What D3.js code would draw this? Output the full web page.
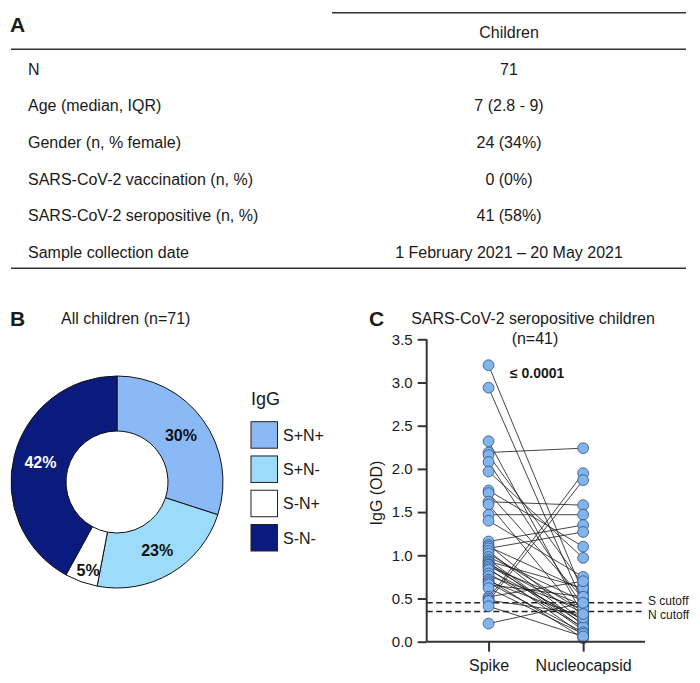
<!DOCTYPE html>
<html>
<head>
<meta charset="utf-8">
<script src="https://cdn.jsdelivr.net/npm/d3@7"></script>
<style>
  body { margin: 0; background: #fff; }
  svg { display: block; font-family: "Liberation Sans", Arial, sans-serif; }
</style>
</head>
<body>
<svg id="fig" width="700" height="683"></svg>
<script>
// ---------- Data ----------
const tableHeader = "Children";
const tableLabels = ["N", "Age (median, IQR)", "Gender (n, % female)", "SARS-CoV-2 vaccination (n, %)", "SARS-CoV-2 seropositive (n, %)", "Sample collection date"];
const tableValues = ["71", "7 (2.8 - 9)", "24 (34%)", "0 (0%)", "41 (58%)", "1 February 2021 \u2013 20 May 2021"];

const pieCategories = ["S+N+", "S+N-", "S-N+", "S-N-"];
const piePercents = [30, 23, 5, 42];
const pieColors = ["#8bb9f6", "#9cdcfa", "#ffffff", "#0b1a7d"];
const pieLabelColors = ["#111", "#111", "#111", "#fff"];

const antigens = ["Spike", "Nucleocapsid"];
const spikeOD = [3.20, 2.94, 2.32, 2.19, 2.16, 2.08, 1.97, 1.75, 1.72, 1.62, 1.59, 1.47, 1.40, 1.16, 1.12, 1.10, 1.08, 1.05, 1.02, 0.98, 0.95, 0.93, 0.92, 0.90, 0.89, 0.87, 0.85, 0.83, 0.79, 0.76, 0.72, 0.70, 0.68, 0.66, 0.62, 0.52, 0.50, 0.48, 0.47, 0.41, 0.21];
const nucleoOD = [0.56, 0.44, 0.30, 2.24, 0.66, 0.40, 0.97, 1.10, 0.50, 1.58, 0.27, 1.47, 0.75, 1.35, 0.23, 0.60, 1.27, 0.19, 0.35, 0.47, 0.15, 0.62, 0.13, 0.33, 0.21, 0.42, 0.08, 0.25, 0.17, 0.38, 0.04, 0.28, 0.11, 0.52, 0.09, 0.70, 1.95, 0.32, 1.87, 0.06, 0.45];
const yTicks = [0.0, 0.5, 1.0, 1.5, 2.0, 2.5, 3.0, 3.5];
const cutoffs = [{name: "S cutoff", value: 0.45}, {name: "N cutoff", value: 0.35}];
const pValueText = "\u2264 0.0001";

// ---------- Drawing ----------
const svg = d3.select("#fig");
const ink = "#1a1a1a";

// Panel letters
[["A", 10, 32], ["B", 10, 326], ["C", 369, 326]].forEach(([t, x, y]) => {
  svg.append("text").attr("x", x).attr("y", y).text(t)
    .attr("font-size", 21).attr("font-weight", "bold").attr("fill", ink);
});

// ===== Panel A: table =====
const colX = 509;
const rowY = d3.scalePoint().domain(d3.range(tableLabels.length)).range([69.3, 252]);
svg.append("line").attr("x1", 332).attr("x2", 686).attr("y1", 12.7).attr("y2", 12.7)
  .attr("stroke", "#333").attr("stroke-width", 1.6);
svg.append("text").attr("x", colX).attr("y", 32.3).attr("dy", "0.35em")
  .attr("text-anchor", "middle").attr("font-size", 16).attr("fill", ink).text(tableHeader);
svg.append("line").attr("x1", 11).attr("x2", 686).attr("y1", 49.3).attr("y2", 49.3)
  .attr("stroke", "#333").attr("stroke-width", 1.6);
svg.append("line").attr("x1", 11).attr("x2", 686).attr("y1", 268.3).attr("y2", 268.3)
  .attr("stroke", "#333").attr("stroke-width", 1.6);
const rows = svg.append("g").selectAll("g").data(tableLabels).join("g")
  .attr("transform", (d, i) => `translate(0,${rowY(i)})`);
rows.append("text").attr("x", 28).attr("dy", "0.35em").attr("font-size", 16).attr("fill", ink).text(d => d);
rows.append("text").attr("x", colX).attr("dy", "0.35em").attr("text-anchor", "middle")
  .attr("font-size", 16).attr("fill", ink).text((d, i) => tableValues[i]);

// ===== Panel B: donut =====
svg.append("text").attr("x", 61).attr("y", 324).attr("font-size", 16).attr("fill", ink).text("All children (n=71)");
const cx = 117, cy = 482, R = 106, r0 = 51;
const pie = d3.pie().sort(null).value(d => d)(piePercents);
const arc = d3.arc().innerRadius(r0).outerRadius(R);
const gB = svg.append("g").attr("transform", `translate(${cx},${cy})`);
gB.selectAll("path").data(pie).join("path")
  .attr("d", arc).attr("fill", (d, i) => pieColors[i]).attr("stroke", "#111").attr("stroke-width", 1);
const labelArc = d3.arc().innerRadius(r0 + 28).outerRadius(r0 + 28);
const smallArc = d3.arc().innerRadius(94).outerRadius(94);
gB.selectAll("text.pl").data(pie).join("text").attr("class", "pl")
  .attr("transform", d => {
    const c = (d.data < 10 ? smallArc : labelArc).centroid(d);
    return `translate(${c[0] + (d.data < 10 ? 3 : 0)},${c[1]})`;
  })
  .attr("text-anchor", "middle").attr("dy", "0.36em")
  .attr("font-size", 16).attr("font-weight", "bold")
  .attr("fill", (d, i) => pieLabelColors[i])
  .text(d => d.data + "%");

// legend
svg.append("text").attr("x", 251).attr("y", 399).attr("dy", "0.35em").attr("font-size", 18).attr("fill", ink).text("IgG");
const legY = d3.scalePoint().domain(pieCategories).range([421.7, 524.5]);
const leg = svg.append("g").selectAll("g").data(pieCategories).join("g")
  .attr("transform", d => `translate(251,${legY(d)})`);
leg.append("rect").attr("width", 26.5).attr("height", 26.5)
  .attr("fill", (d, i) => pieColors[i]).attr("stroke", "#222").attr("stroke-width", 1);
leg.append("text").attr("x", 32).attr("y", 13.5).attr("dy", "0.36em").attr("font-size", 16).attr("fill", ink).text(d => d);

// ===== Panel C: paired dot plot =====
svg.append("text").attr("x", 533).attr("y", 318).attr("dy", "0.35em").attr("text-anchor", "middle")
  .attr("font-size", 16).attr("fill", ink).text("SARS-CoV-2 seropositive children");
svg.append("text").attr("x", 535).attr("y", 338).attr("dy", "0.35em").attr("text-anchor", "middle")
  .attr("font-size", 16).attr("fill", ink).text("(n=41)");

const axLeft = 426.7, axRight = 645, axBottom = 641.7, axTop = 339.3;
const y = d3.scaleLinear().domain([0, 3.5]).range([axBottom, axTop]);
const x = d3.scalePoint().domain(antigens).range([axLeft, axRight]).padding(0.654);

// connecting lines
const pairs = spikeOD.map((s, i) => [s, nucleoOD[i]]);
svg.append("g").selectAll("line").data(pairs).join("line")
  .attr("x1", x("Spike")).attr("x2", x("Nucleocapsid"))
  .attr("y1", d => y(d[0])).attr("y2", d => y(d[1]))
  .attr("stroke", "#1a1a1a").attr("stroke-width", 0.9).attr("stroke-opacity", 0.9);

// cutoffs
const gc = svg.append("g");
gc.selectAll("line").data(cutoffs).join("line")
  .attr("x1", axLeft).attr("x2", axRight).attr("y1", d => y(d.value)).attr("y2", d => y(d.value))
  .attr("stroke", "#222").attr("stroke-width", 1.5).attr("stroke-dasharray", "6,3.5");
gc.selectAll("text").data(cutoffs).join("text")
  .attr("x", 648).attr("y", (d, i) => y(d.value) + (i === 0 ? -2.5 : 3))
  .attr("dy", "0.35em").attr("font-size", 12).attr("fill", ink).text(d => d.name);

// points
const pts = [];
spikeOD.forEach(v => pts.push(["Spike", v]));
nucleoOD.forEach(v => pts.push(["Nucleocapsid", v]));
svg.append("g").selectAll("circle").data(pts).join("circle")
  .attr("cx", d => x(d[0])).attr("cy", d => y(d[1])).attr("r", 5.4)
  .attr("fill", "#82b4ee").attr("stroke", "#2f4f7f").attr("stroke-width", 0.8);

// axes
const yAxis = svg.append("g").attr("transform", `translate(${axLeft},0)`)
  .call(d3.axisLeft(y).tickValues(yTicks).tickFormat(d3.format(".1f")).tickSize(9).tickPadding(5));
const xAxis = svg.append("g").attr("transform", `translate(0,${axBottom})`)
  .call(d3.axisBottom(x).tickSize(10).tickPadding(8));
[yAxis, xAxis].forEach(g => {
  g.select(".domain").attr("stroke", "#333").attr("stroke-width", 2);
  g.selectAll(".tick line").attr("stroke", "#333").attr("stroke-width", 2);
  g.selectAll("text").attr("fill", ink).attr("font-family", "Liberation Sans, Arial, sans-serif");
});
yAxis.select(".domain").attr("d", `M0,${axBottom}V${axTop}`);
xAxis.select(".domain").attr("d", `M${axLeft},0H${axRight}`);
yAxis.selectAll("text").attr("font-size", 15);
xAxis.selectAll("text").attr("font-size", 16);

svg.append("text").attr("transform", `translate(376.7,493) rotate(-90)`)
  .attr("text-anchor", "middle").attr("dy", "0.35em").attr("font-size", 16).attr("fill", ink).text("IgG (OD)");

svg.append("text").attr("x", 510).attr("y", 372.7).attr("dy", "0.35em")
  .attr("font-size", 14).attr("font-weight", "bold").attr("fill", ink).text(pValueText);
</script>
</body>
</html>
